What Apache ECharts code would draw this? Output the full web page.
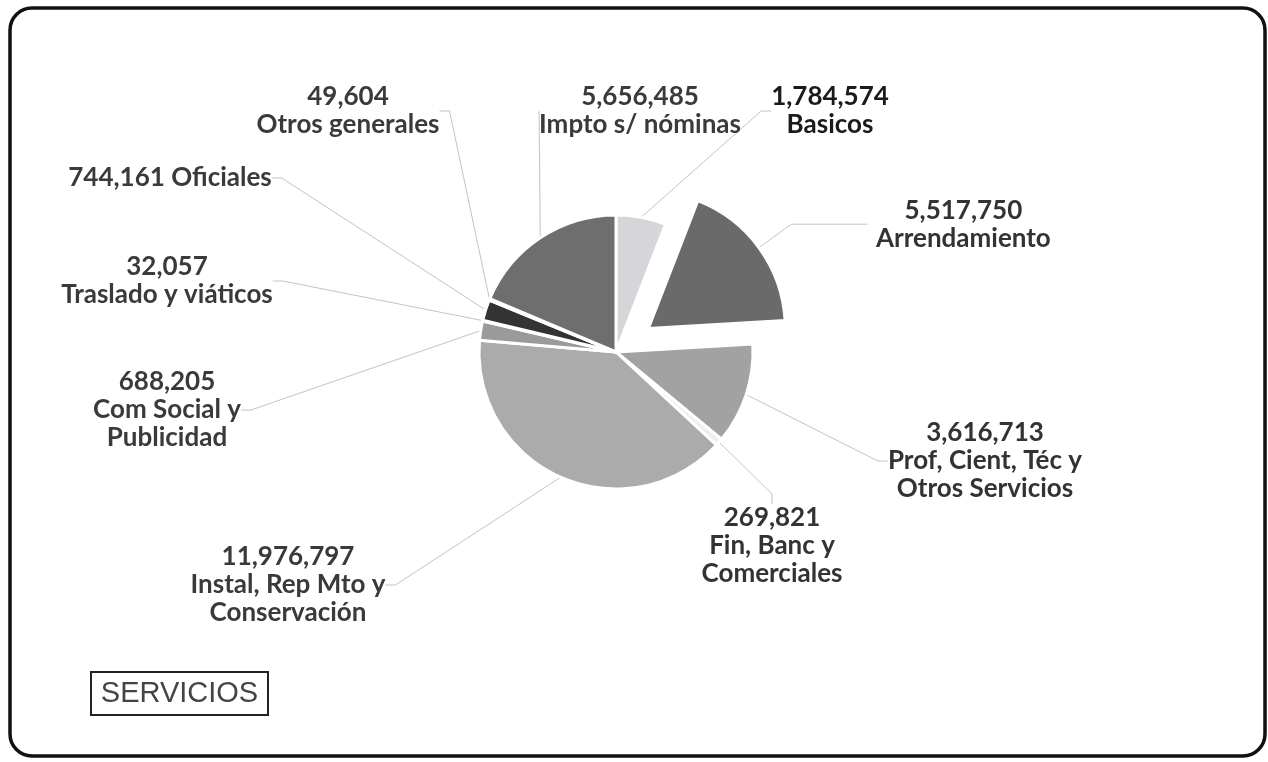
<!DOCTYPE html>
<html>
<head>
<meta charset="utf-8">
<script src="https://cdn.jsdelivr.net/npm/echarts@6/dist/echarts.min.js"></script>
<style>
html,body{margin:0;padding:0;background:#fff;}
#chart{width:1268px;height:762px;}
</style>
</head>
<body>
<div id="chart"></div>
<script>
// ---- data ----
var categories = ['Basicos', 'Arrendamiento', 'Prof, Cient, Téc y\nOtros Servicios', 'Fin, Banc y\nComerciales',
  'Instal, Rep Mto y\nConservación', 'Com Social y\nPublicidad', 'Traslado y viáticos', 'Oficiales',
  'Otros generales', 'Impto s/ nóminas'];
var values = [1784574, 5517750, 3616713, 269821, 11976797, 688205, 32057, 744161, 49604, 5656485];
var title = 'SERVICIOS';

// ---- styles ----
var colors = ['#d6d6da', '#6a6a6a', '#a2a2a2', '#eeeeee', '#ababab', '#9a9a9a', '#8a8a8a', '#333333', '#777777', '#6e6e6e'];
var labelPos = [[830, 111], null, [985, 461], [772, 546], [288, 585], [167, 410], [167, 281], [170, 178], [348, 111], [640, 111]];
var singleLine = [false, false, false, false, false, false, false, true, false, false];
var selected = [false, true, false, false, false, false, false, false, false, false];
var labelColors = ['#1a1a1a', '#333', '#333', '#333', '#3a3a3a', '#3a3a3a', '#3a3a3a', '#3a3a3a', '#3a3a3a', '#3a3a3a'];

function fmt(v) { return v.toString().replace(/\B(?=(\d{3})+(?!\d))/g, ','); }

var FONT = 'Lato, "Open Sans", sans-serif';

var data = categories.map(function (c, i) {
  var item = {
    name: c,
    value: values[i],
    selected: selected[i],
    itemStyle: { color: colors[i] },
    label: { color: labelColors[i] }
  };
  if (selected[i]) {
    // exploded slice: let the pie place label + guide line itself
    item.labelLine = { length: 40, length2: 76 };
    item.label = {
      color: labelColors[i],
      align: 'left',
      formatter: function (p) { return '{a|' + fmt(p.value) + '}\n{a|' + p.name + '}'; },
      rich: { a: { width: 182, align: 'center', fontFamily: FONT, fontWeight: 'bold', fontSize: 26, lineHeight: 28, color: labelColors[i] } }
    };
  }
  return item;
});

var chart = echarts.init(document.getElementById('chart'), null, { renderer: 'canvas' });
chart.setOption({
  backgroundColor: '#ffffff',
  animation: false,
  graphic: [
    { type: 'rect', shape: { x: 10, y: 8, width: 1255, height: 748, r: 22 },
      style: { fill: 'none', stroke: '#111', lineWidth: 3.5 }, silent: true },
    { type: 'rect', shape: { x: 91, y: 672, width: 177, height: 43 },
      style: { fill: '#fff', stroke: '#222', lineWidth: 2 }, silent: true },
    { type: 'text', x: 179.5, y: 694, silent: true,
      style: { text: title, font: '29px "Liberation Sans", Arial, sans-serif', fill: '#444',
        align: 'center', verticalAlign: 'middle' } }
  ],
  series: [{
    type: 'pie',
    center: [616, 352],
    radius: [0, 137],
    startAngle: 90,
    clockwise: true,
    selectedMode: 'single',
    selectedOffset: 40,
    avoidLabelOverlap: false,
    emphasis: { disabled: true },
    itemStyle: { borderColor: '#ffffff', borderWidth: 3 },
    label: {
      show: true,
      position: 'outside',
      fontFamily: FONT,
      fontWeight: 'bold',
      fontSize: 26,
      lineHeight: 28,
      align: 'center',
      formatter: function (p) {
        return fmt(p.value) + (singleLine[p.dataIndex] ? ' ' : '\n') + p.name;
      }
    },
    labelLine: { show: true, lineStyle: { color: '#c4c4c4', width: 1 }, length: 10, length2: 10 },
    labelLayout: function (p) {
      var pos = labelPos[p.dataIndex];
      if (!pos) return {};
      return { x: pos[0], y: pos[1], align: 'center', verticalAlign: 'middle' };
    },
    data: data
  }]
});
</script>
</body>
</html>
